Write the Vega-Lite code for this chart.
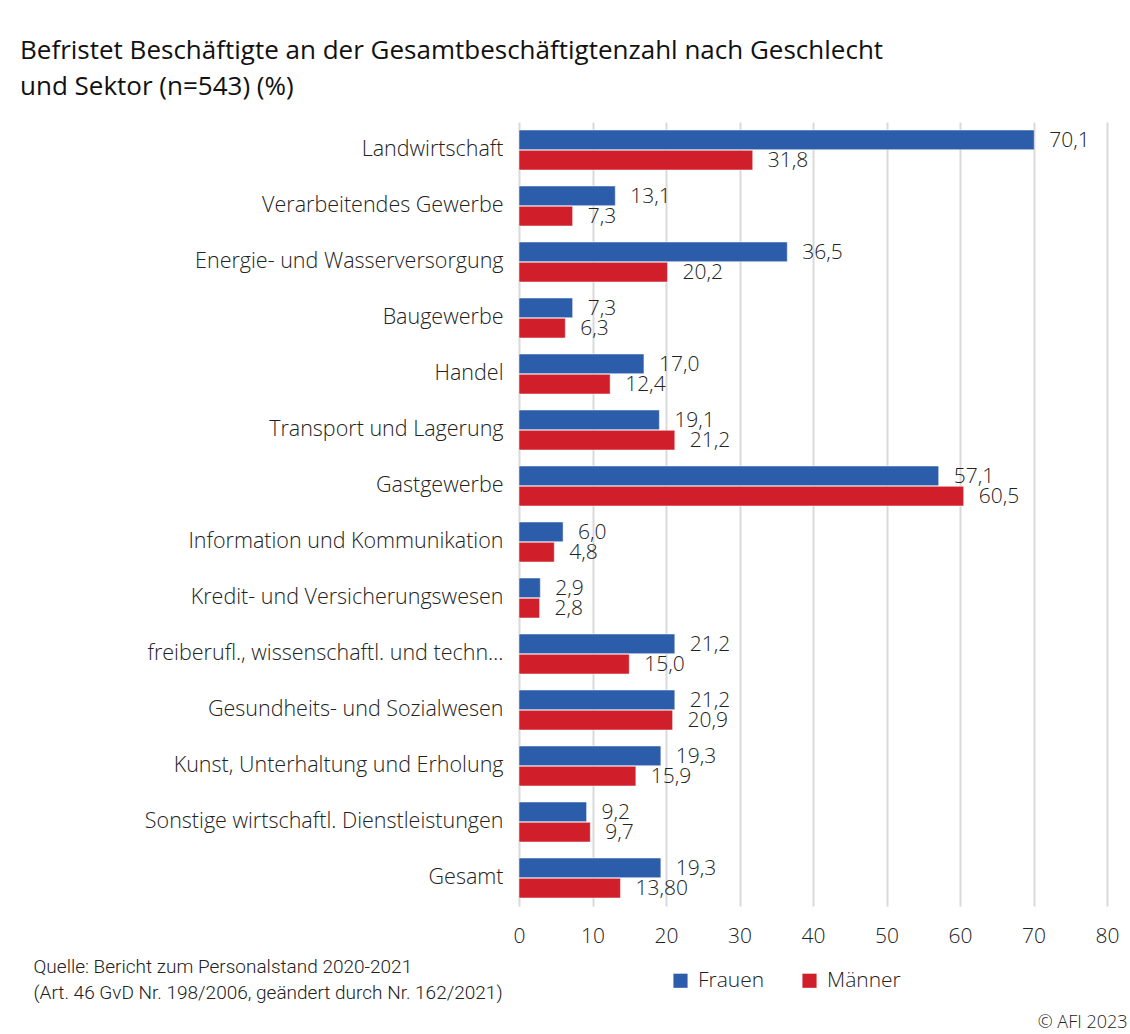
{
  "$schema": "https://vega.github.io/schema/vega-lite/v6.json",
  "autosize": {"type": "none"},
  "width": 588,
  "height": 784,
  "padding": {"left": 519, "top": 122, "right": 23, "bottom": 128},
  "background": "white",
  "config": {
    "font": "Open Sans",
    "view": {"stroke": null},
    "axis": {"labelColor": "#222222", "titleColor": "#222222"}
  },
  "title": {
    "text": ["Befristet Beschäftigte an der Gesamtbeschäftigtenzahl nach Geschlecht", "und Sektor (n=543) (%)"],
    "anchor": "start",
    "frame": "group",
    "dx": -499,
    "offset": 22,
    "fontSize": 26,
    "fontWeight": "normal",
    "lineHeight": 36,
    "color": "#111111",
    "font": "Open Sans"
  },
  "data": {
    "values": [
      {"sektor": "Landwirtschaft ", "geschlecht": "Frauen", "wert": 70.1, "label": "70,1"},
      {"sektor": "Landwirtschaft ", "geschlecht": "Männer", "wert": 31.8, "label": "31,8"},
      {"sektor": "Verarbeitendes Gewerbe", "geschlecht": "Frauen", "wert": 13.1, "label": "13,1"},
      {"sektor": "Verarbeitendes Gewerbe", "geschlecht": "Männer", "wert": 7.3, "label": "7,3"},
      {"sektor": "Energie- und Wasserversorgung", "geschlecht": "Frauen", "wert": 36.5, "label": "36,5"},
      {"sektor": "Energie- und Wasserversorgung", "geschlecht": "Männer", "wert": 20.2, "label": "20,2"},
      {"sektor": "Baugewerbe", "geschlecht": "Frauen", "wert": 7.3, "label": "7,3"},
      {"sektor": "Baugewerbe", "geschlecht": "Männer", "wert": 6.3, "label": "6,3"},
      {"sektor": "Handel", "geschlecht": "Frauen", "wert": 17.0, "label": "17,0"},
      {"sektor": "Handel", "geschlecht": "Männer", "wert": 12.4, "label": "12,4"},
      {"sektor": "Transport und Lagerung", "geschlecht": "Frauen", "wert": 19.1, "label": "19,1"},
      {"sektor": "Transport und Lagerung", "geschlecht": "Männer", "wert": 21.2, "label": "21,2"},
      {"sektor": "Gastgewerbe", "geschlecht": "Frauen", "wert": 57.1, "label": "57,1"},
      {"sektor": "Gastgewerbe", "geschlecht": "Männer", "wert": 60.5, "label": "60,5"},
      {"sektor": "Information und Kommunikation", "geschlecht": "Frauen", "wert": 6.0, "label": "6,0"},
      {"sektor": "Information und Kommunikation", "geschlecht": "Männer", "wert": 4.8, "label": "4,8"},
      {"sektor": "Kredit- und Versicherungswesen", "geschlecht": "Frauen", "wert": 2.9, "label": "2,9"},
      {"sektor": "Kredit- und Versicherungswesen", "geschlecht": "Männer", "wert": 2.8, "label": "2,8"},
      {"sektor": "freiberufl., wissenschaftl. und techn…", "geschlecht": "Frauen", "wert": 21.2, "label": "21,2"},
      {"sektor": "freiberufl., wissenschaftl. und techn…", "geschlecht": "Männer", "wert": 15.0, "label": "15,0"},
      {"sektor": "Gesundheits- und Sozialwesen", "geschlecht": "Frauen", "wert": 21.2, "label": "21,2"},
      {"sektor": "Gesundheits- und Sozialwesen", "geschlecht": "Männer", "wert": 20.9, "label": "20,9"},
      {"sektor": "Kunst, Unterhaltung und Erholung", "geschlecht": "Frauen", "wert": 19.3, "label": "19,3"},
      {"sektor": "Kunst, Unterhaltung und Erholung", "geschlecht": "Männer", "wert": 15.9, "label": "15,9"},
      {"sektor": "Sonstige wirtschaftl. Dienstleistungen", "geschlecht": "Frauen", "wert": 9.2, "label": "9,2"},
      {"sektor": "Sonstige wirtschaftl. Dienstleistungen", "geschlecht": "Männer", "wert": 9.7, "label": "9,7"},
      {"sektor": "Gesamt", "geschlecht": "Frauen", "wert": 19.3, "label": "19,3"},
      {"sektor": "Gesamt", "geschlecht": "Männer", "wert": 13.8, "label": "13,80"}
    ]
  },
  "encoding": {
    "y": {
      "field": "sektor",
      "type": "nominal",
      "sort": null,
      "scale": {"paddingInner": 0.286, "paddingOuter": 0.143},
      "axis": {
        "title": "© AFI 2023",
        "titleAngle": 0,
        "titleX": 608,
        "titleY": 905,
        "titleAlign": "right",
        "titleBaseline": "alphabetic",
        "titleFontSize": 18,
        "titleFontWeight": 300,
        "domain": false,
        "ticks": false,
        "labelFontSize": 21.5,
        "labelPadding": 16,
        "labelLimit": 500,
        "labelFontWeight": 300
      }
    },
    "yOffset": {"field": "geschlecht", "type": "nominal", "scale": {"paddingInner": 0.03}},
    "x": {
      "field": "wert",
      "type": "quantitative",
      "scale": {"domain": [0, 80], "nice": false},
      "axis": {
        "values": [0, 10, 20, 30, 40, 50, 60, 70, 80],
        "grid": true,
        "gridColor": "#D9D9D9",
        "gridWidth": 2,
        "domain": false,
        "ticks": false,
        "labelFlush": false,
        "labelFontSize": 21,
        "labelFontWeight": 300,
        "labelPadding": 19,
        "title": ["Quelle: Bericht zum Personalstand 2020-2021", "(Art. 46 GvD Nr. 198/2006, geändert durch Nr. 162/2021)"],
        "titleX": -486,
        "titleY": 51,
        "titleAlign": "left",
        "titleAnchor": "start",
        "titleBaseline": "top",
        "titleFont": "Roboto",
        "titleFontSize": 19,
        "titleFontWeight": 300,
        "titleLineHeight": 26
      }
    }
  },
  "layer": [
    {
      "mark": {"type": "bar", "stroke": "#ffffff", "strokeWidth": 0.5},
      "encoding": {
        "color": {
          "field": "geschlecht",
          "type": "nominal",
          "scale": {"domain": ["Frauen", "Männer"], "range": ["#2C5DAA", "#D01F2B"]},
          "legend": {
            "title": null,
            "orient": "none",
            "direction": "horizontal",
            "legendX": 151,
            "legendY": 848,
            "symbolType": "square",
            "symbolSize": 200,
            "symbolStrokeWidth": 0,
            "labelFontSize": 21,
            "labelFontWeight": 300,
            "labelColor": "#222222",
            "labelOffset": 7,
            "columnPadding": 34,
            "padding": 0
          }
        }
      }
    },
    {
      "mark": {"type": "text", "align": "left", "baseline": "middle", "dx": 15, "dy": 1, "fontSize": 21, "fontWeight": 300, "color": "#222222"},
      "encoding": {"text": {"field": "label"}}
    }
  ]
}
